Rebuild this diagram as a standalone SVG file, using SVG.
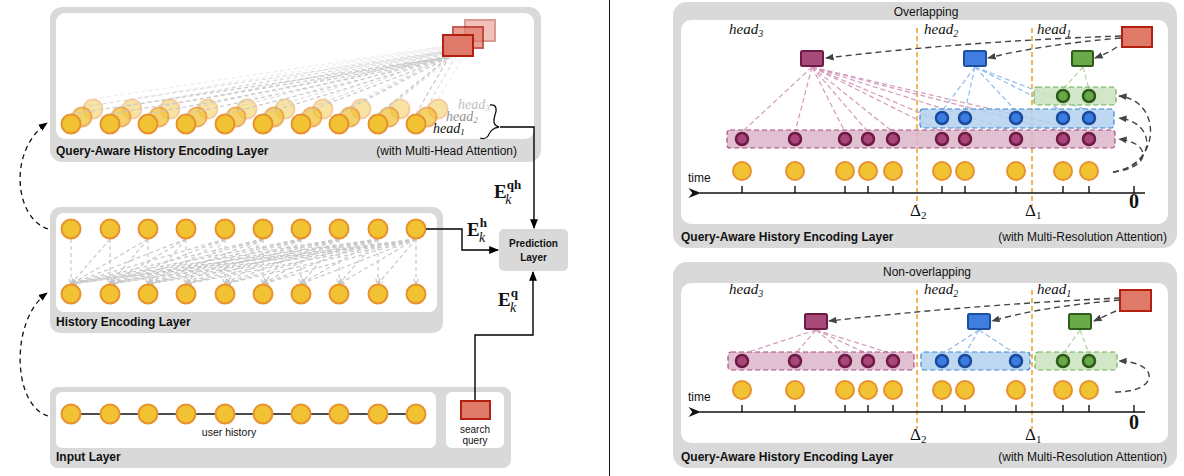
<svg xmlns="http://www.w3.org/2000/svg" width="1184" height="476" viewBox="0 0 1184 476">
  <defs>
    <style>
      .panel { fill: #d9d9d9; }
      .inner { fill: #ffffff; }
      .lbl { font-family: "Liberation Sans", Arial, sans-serif; font-size: 12px; fill: #111; }
      .bold { font-weight: bold; }
      .math { font-family: "Liberation Serif", "DejaVu Serif", serif; font-style: italic; font-size: 15px; fill: #111; }
      .math-s { font-family: "Liberation Serif", "DejaVu Serif", serif; font-style: italic; font-size: 14px; fill: #111; }
      .sym { font-family: "Liberation Serif", "DejaVu Serif", serif; fill: #111; }
      .node { fill: #f1c232; stroke: #e8912f; stroke-width: 2; }
      .query { fill: #e07a68; stroke: #b3200f; stroke-width: 2; }
      .attn { fill: none; stroke: #c8c8c8; stroke-width: 1.2; stroke-dasharray: 4 3; }
      .flow { fill: none; stroke: #000; stroke-width: 1.4; }
      .skip { fill: none; stroke: #111; stroke-width: 1.3; stroke-dasharray: 5 4; }
      .route { fill: none; stroke: #444; stroke-width: 1.4; stroke-dasharray: 6 4; }
      .delta { stroke: #f0a020; stroke-width: 1.5; stroke-dasharray: 5 3; }
      .axis { stroke: #111; stroke-width: 1.6; fill: none; }
      .tick { stroke: #111; stroke-width: 1.4; }
      .p-line { fill: none; stroke: #d49ab9; stroke-width: 1.2; stroke-dasharray: 5 3; }
      .b-line { fill: none; stroke: #8fbaf0; stroke-width: 1.2; stroke-dasharray: 5 3; }
      .g-line { fill: none; stroke: #add49b; stroke-width: 1.2; stroke-dasharray: 5 3; }
      .p-band { fill: #dbb5c9; fill-opacity: 0.85; stroke: #a84a80; stroke-width: 1.2; stroke-dasharray: 5 3; }
      .b-band { fill: #b3d1ee; fill-opacity: 0.85; stroke: #3d85d0; stroke-width: 1.2; stroke-dasharray: 5 3; }
      .g-band { fill: #c9e3bd; fill-opacity: 0.85; stroke: #6fae55; stroke-width: 1.2; stroke-dasharray: 5 3; }
      .p-node { fill: #a8467a; stroke: #6d1a45; stroke-width: 2.5; }
      .b-node { fill: #3a7ce0; stroke: #1b4a9c; stroke-width: 2.5; }
      .g-node { fill: #68a848; stroke: #2d5a1a; stroke-width: 2.5; }
      .p-box { fill: #a84a7a; stroke: #6d1a45; stroke-width: 2; }
      .b-box { fill: #3f7ee0; stroke: #1d4fa0; stroke-width: 2; }
      .g-box { fill: #6aaa48; stroke: #2e5c1a; stroke-width: 2; }
    </style>
    <marker id="arr" viewBox="0 0 10 10" refX="9" refY="5" markerWidth="7" markerHeight="7" orient="auto-start-reverse">
      <path d="M0 1 L10 5 L0 9 z" fill="#000"/>
    </marker>
    <marker id="arrGray" viewBox="0 0 10 10" refX="9" refY="5" markerWidth="6" markerHeight="6" orient="auto">
      <path d="M0 1 L10 5 L0 9 z" fill="#444"/>
    </marker>
    <marker id="arrLight" viewBox="0 0 10 10" refX="9" refY="5" markerWidth="5" markerHeight="5" orient="auto">
      <path d="M0 1 L10 5 L0 9" fill="none" stroke="#c8c8c8" stroke-width="2"/>
    </marker>
    <marker id="axisArr" viewBox="0 0 10 10" refX="1" refY="5" markerWidth="8" markerHeight="8" orient="auto">
      <path d="M10 1 L0 5 L10 9 L7 5 z" fill="#111"/>
    </marker>
  </defs>

  <rect width="1184" height="476" fill="#ffffff"/>

  <!-- divider between the two halves -->
  <line x1="609.5" y1="0" x2="609.5" y2="476" stroke="#111" stroke-width="1"/>

  <!-- ===================== left: model stack ===================== -->
  <g id="query-aware-layer">
    <rect class="panel" x="50" y="7" width="491" height="155" rx="12"/>
    <rect class="inner" x="56" y="13" width="478" height="126" rx="9"/>
    <!-- head 3 -->
    <g opacity="0.45">
      <g class="attn" style="stroke:#d8d8d8">
        <path d="M93 99 L472 42"/><path d="M132 99 L472 42"/><path d="M170 99 L472 42"/><path d="M208 99 L472 42"/><path d="M247 99 L472 42"/>
        <path d="M285 99 L472 42"/><path d="M323 99 L472 42"/><path d="M361 99 L472 42"/><path d="M400 99 L472 42"/><path d="M438 99 L472 42"/>
      </g>
      <circle class="node" cx="93" cy="109" r="9.5"/><circle class="node" cx="132" cy="109" r="9.5"/><circle class="node" cx="170" cy="109" r="9.5"/>
      <circle class="node" cx="208" cy="109" r="9.5"/><circle class="node" cx="247" cy="109" r="9.5"/><circle class="node" cx="285" cy="109" r="9.5"/>
      <circle class="node" cx="323" cy="109" r="9.5"/><circle class="node" cx="361" cy="109" r="9.5"/><circle class="node" cx="400" cy="109" r="9.5"/>
      <circle class="node" cx="438" cy="109" r="9.5"/>
      <rect class="query" x="465" y="20" width="30" height="21"/>
    </g>
    <!-- head 2 -->
    <g opacity="0.72">
      <g class="attn" style="stroke:#d0d0d0">
        <path d="M82 107 L460 49"/><path d="M121 107 L460 49"/><path d="M159 107 L460 49"/><path d="M197 107 L460 49"/><path d="M236 107 L460 49"/>
        <path d="M274 107 L460 49"/><path d="M312 107 L460 49"/><path d="M350 107 L460 49"/><path d="M389 107 L460 49"/><path d="M427 107 L460 49"/>
      </g>
      <circle class="node" cx="82" cy="117" r="9.5"/><circle class="node" cx="121" cy="117" r="9.5"/><circle class="node" cx="159" cy="117" r="9.5"/>
      <circle class="node" cx="197" cy="117" r="9.5"/><circle class="node" cx="236" cy="117" r="9.5"/><circle class="node" cx="274" cy="117" r="9.5"/>
      <circle class="node" cx="312" cy="117" r="9.5"/><circle class="node" cx="350" cy="117" r="9.5"/><circle class="node" cx="389" cy="117" r="9.5"/>
      <circle class="node" cx="427" cy="117" r="9.5"/>
      <rect class="query" x="453" y="27" width="30" height="21"/>
    </g>
    <!-- head 1 -->
    <g>
      <g class="attn">
        <path d="M71 114 L449 57"/><path d="M110 114 L449 57"/><path d="M148 114 L449 57"/><path d="M186 114 L449 57"/><path d="M225 114 L449 57"/>
        <path d="M263 114 L449 57"/><path d="M301 114 L449 57"/><path d="M339 114 L449 57"/><path d="M378 114 L449 57"/><path d="M416 114 L449 57"/>
      </g>
      <circle class="node" cx="71" cy="124" r="9.5"/><circle class="node" cx="110" cy="124" r="9.5"/><circle class="node" cx="148" cy="124" r="9.5"/>
      <circle class="node" cx="186" cy="124" r="9.5"/><circle class="node" cx="225" cy="124" r="9.5"/><circle class="node" cx="263" cy="124" r="9.5"/>
      <circle class="node" cx="301" cy="124" r="9.5"/><circle class="node" cx="339" cy="124" r="9.5"/><circle class="node" cx="378" cy="124" r="9.5"/>
      <circle class="node" cx="416" cy="124" r="9.5"/>
      <rect class="query" x="443" y="35" width="30" height="21"/>
    </g>
    <text class="math-s" x="458" y="109" style="fill:#c0c0c0">head<tspan font-size="9" dy="2">3</tspan></text>
    <text class="math-s" x="446" y="121" style="fill:#8f8f8f">head<tspan font-size="9" dy="2">2</tspan></text>
    <text class="math-s" x="433" y="133">head<tspan font-size="9" dy="2">1</tspan></text>
    <path d="M490 105 C497 104 497 110 495 115 C493 121 493 125 499 127 C492 128 490 132 488 136 C486 139 483 139 480 138" fill="none" stroke="#111" stroke-width="1.3"/>
    <text class="lbl bold" x="56" y="155">Query-Aware History Encoding Layer</text>
    <text class="lbl" x="517" y="155" text-anchor="end">(with Multi-Head Attention)</text>
  </g>

  <g id="history-layer">
    <rect class="panel" x="50" y="207" width="393" height="126" rx="10"/>
    <rect class="inner" x="56" y="213" width="381" height="99" rx="8"/>
    <g class="attn" marker-end="url(#arrLight)">
      <path d="M71 239 L71 284"/>
      <path d="M110 239 L71 284"/><path d="M110 239 L110 284"/>
      <path d="M148 239 L71 284"/><path d="M148 239 L110 284"/><path d="M148 239 L148 284"/>
      <path d="M186 239 L71 284"/><path d="M186 239 L110 284"/><path d="M186 239 L148 284"/><path d="M186 239 L186 284"/>
      <path d="M225 239 L71 284"/><path d="M225 239 L110 284"/><path d="M225 239 L148 284"/><path d="M225 239 L186 284"/><path d="M225 239 L225 284"/>
      <path d="M263 239 L71 284"/><path d="M263 239 L110 284"/><path d="M263 239 L148 284"/><path d="M263 239 L186 284"/><path d="M263 239 L225 284"/><path d="M263 239 L263 284"/>
      <path d="M301 239 L71 284"/><path d="M301 239 L110 284"/><path d="M301 239 L148 284"/><path d="M301 239 L186 284"/><path d="M301 239 L225 284"/><path d="M301 239 L263 284"/><path d="M301 239 L301 284"/>
      <path d="M339 239 L71 284"/><path d="M339 239 L110 284"/><path d="M339 239 L148 284"/><path d="M339 239 L186 284"/><path d="M339 239 L225 284"/><path d="M339 239 L263 284"/><path d="M339 239 L301 284"/><path d="M339 239 L339 284"/>
      <path d="M378 239 L71 284"/><path d="M378 239 L110 284"/><path d="M378 239 L148 284"/><path d="M378 239 L186 284"/><path d="M378 239 L225 284"/><path d="M378 239 L263 284"/><path d="M378 239 L301 284"/><path d="M378 239 L339 284"/><path d="M378 239 L378 284"/>
      <path d="M416 239 L71 284"/><path d="M416 239 L110 284"/><path d="M416 239 L148 284"/><path d="M416 239 L186 284"/><path d="M416 239 L225 284"/><path d="M416 239 L263 284"/><path d="M416 239 L301 284"/><path d="M416 239 L339 284"/><path d="M416 239 L378 284"/><path d="M416 239 L416 284"/>
    </g>
    <circle class="node" cx="71" cy="229" r="9.5"/><circle class="node" cx="110" cy="229" r="9.5"/><circle class="node" cx="148" cy="229" r="9.5"/>
    <circle class="node" cx="186" cy="229" r="9.5"/><circle class="node" cx="225" cy="229" r="9.5"/><circle class="node" cx="263" cy="229" r="9.5"/>
    <circle class="node" cx="301" cy="229" r="9.5"/><circle class="node" cx="339" cy="229" r="9.5"/><circle class="node" cx="378" cy="229" r="9.5"/>
    <circle class="node" cx="416" cy="229" r="9.5"/>
    <circle class="node" cx="71" cy="294" r="9.5"/><circle class="node" cx="110" cy="294" r="9.5"/><circle class="node" cx="148" cy="294" r="9.5"/>
    <circle class="node" cx="186" cy="294" r="9.5"/><circle class="node" cx="225" cy="294" r="9.5"/><circle class="node" cx="263" cy="294" r="9.5"/>
    <circle class="node" cx="301" cy="294" r="9.5"/><circle class="node" cx="339" cy="294" r="9.5"/><circle class="node" cx="378" cy="294" r="9.5"/>
    <circle class="node" cx="416" cy="294" r="9.5"/>
    <text class="lbl bold" x="56" y="326">History Encoding Layer</text>
  </g>

  <g id="input-layer">
    <rect class="panel" x="50" y="387" width="461" height="81" rx="8"/>
    <rect class="inner" x="56" y="392" width="380" height="56" rx="6"/>
    <rect class="inner" x="446" y="392" width="58" height="56" rx="6"/>
    <line x1="71" y1="414" x2="416" y2="414" stroke="#111" stroke-width="1.4"/>
    <circle class="node" cx="71" cy="414" r="9.5"/><circle class="node" cx="110" cy="414" r="9.5"/><circle class="node" cx="148" cy="414" r="9.5"/>
    <circle class="node" cx="186" cy="414" r="9.5"/><circle class="node" cx="225" cy="414" r="9.5"/><circle class="node" cx="263" cy="414" r="9.5"/>
    <circle class="node" cx="301" cy="414" r="9.5"/><circle class="node" cx="339" cy="414" r="9.5"/><circle class="node" cx="378" cy="414" r="9.5"/>
    <circle class="node" cx="416" cy="414" r="9.5"/>
    <text class="lbl" x="229" y="436" text-anchor="middle" style="font-size:10.5px">user history</text>
    <rect class="query" x="461" y="401" width="29" height="18"/>
    <text class="lbl" x="475" y="433" text-anchor="middle" style="font-size:10px">search</text>
    <text class="lbl" x="475" y="444" text-anchor="middle" style="font-size:10px">query</text>
    <text class="lbl bold" x="56" y="461">Input Layer</text>
  </g>

  <g id="prediction-layer">
    <rect class="panel" x="499" y="229" width="69" height="42" rx="5"/>
    <text class="lbl bold" x="533.5" y="247" text-anchor="middle" style="font-size:10px">Prediction</text>
    <text class="lbl bold" x="533.5" y="261" text-anchor="middle" style="font-size:10px">Layer</text>
  </g>

  <g id="left-connectors">
    <path class="flow" d="M500 127 L534 127 L534 228" marker-end="url(#arr)"/>
    <path class="flow" d="M426 229 L462 229 L462 250 L498 250" marker-end="url(#arr)"/>
    <path class="flow" d="M475 400 L475 335 L533 335 L533 272" marker-end="url(#arr)"/>
    <path class="skip" d="M48 229 C14 218 8 150 47 123" marker-end="url(#arr)"/>
    <path class="skip" d="M48 416 C12 405 10 320 47 293" marker-end="url(#arr)"/>
    <text class="sym" x="494" y="198" font-weight="bold" font-size="19">E<tspan font-size="13" dy="-9">qh</tspan><tspan font-size="14" font-style="italic" font-weight="normal" dx="-16" dy="15">k</tspan></text>
    <text class="sym" x="467" y="236" font-weight="bold" font-size="19">E<tspan font-size="13" dy="-9">h</tspan><tspan font-size="14" font-style="italic" font-weight="normal" dx="-8" dy="15">k</tspan></text>
    <text class="sym" x="498" y="306" font-weight="bold" font-size="19">E<tspan font-size="13" dy="-9">q</tspan><tspan font-size="14" font-style="italic" font-weight="normal" dx="-8" dy="15">k</tspan></text>
  </g>

  <!-- ===================== right: overlapping resolutions ===================== -->
  <g id="overlapping-panel">
    <rect class="panel" x="673" y="2" width="504" height="246" rx="14"/>
    <rect class="inner" x="681" y="20" width="487" height="204" rx="10"/>
    <text class="lbl" x="926" y="16" text-anchor="middle">Overlapping</text>
    <text class="math" x="729" y="34">head<tspan font-size="10" dy="3">3</tspan></text>
    <text class="math" x="924" y="34">head<tspan font-size="10" dy="3">2</tspan></text>
    <text class="math" x="1037" y="34">head<tspan font-size="10" dy="3">1</tspan></text>

    <line class="delta" x1="917" y1="28" x2="917" y2="206"/>
    <line class="delta" x1="1032" y1="28" x2="1032" y2="206"/>

    <g class="p-line">
      <path d="M812 67 L742 132"/><path d="M812 67 L795 132"/><path d="M812 67 L845 132"/><path d="M812 67 L868 132"/><path d="M812 67 L893 132"/>
      <path d="M812 67 L942 132"/><path d="M812 67 L965 132"/><path d="M812 67 L1016 132"/><path d="M812 67 L1063 132"/><path d="M812 67 L1089 132"/>
    </g>
    <g class="b-line">
      <path d="M975 67 L942 111"/><path d="M975 67 L965 111"/><path d="M975 67 L1016 111"/><path d="M975 67 L1063 111"/><path d="M975 67 L1089 111"/>
    </g>
    <g class="g-line">
      <path d="M1083 67 L1063 89"/><path d="M1083 67 L1089 89"/>
    </g>

    <rect class="p-band" x="727" y="130" width="388" height="18" rx="3"/>
    <rect class="b-band" x="920" y="109" width="194" height="19" rx="3"/>
    <rect class="g-band" x="1034" y="87" width="82" height="18" rx="3"/>

    <g>
      <circle class="p-node" cx="742" cy="139" r="6"/><circle class="p-node" cx="795" cy="139" r="6"/><circle class="p-node" cx="845" cy="139" r="6"/>
      <circle class="p-node" cx="868" cy="139" r="6"/><circle class="p-node" cx="893" cy="139" r="6"/><circle class="p-node" cx="942" cy="139" r="6"/>
      <circle class="p-node" cx="965" cy="139" r="6"/><circle class="p-node" cx="1016" cy="139" r="6"/><circle class="p-node" cx="1063" cy="139" r="6"/>
      <circle class="p-node" cx="1089" cy="139" r="6"/>
      <circle class="b-node" cx="942" cy="118" r="6"/><circle class="b-node" cx="965" cy="118" r="6"/><circle class="b-node" cx="1016" cy="118" r="6"/>
      <circle class="b-node" cx="1063" cy="118" r="6"/><circle class="b-node" cx="1089" cy="118" r="6"/>
      <circle class="g-node" cx="1063" cy="96" r="6"/><circle class="g-node" cx="1089" cy="96" r="6"/>
    </g>

    <rect class="p-box" x="801" y="51" width="22" height="15" rx="1.5"/>
    <rect class="b-box" x="964" y="51" width="22" height="15" rx="1.5"/>
    <rect class="g-box" x="1072" y="51" width="21" height="15" rx="1.5"/>
    <rect class="query" x="1122" y="27" width="30" height="20"/>

    <g>
      <circle class="node" cx="742" cy="171" r="9"/><circle class="node" cx="795" cy="171" r="9"/><circle class="node" cx="845" cy="171" r="9"/>
      <circle class="node" cx="868" cy="171" r="9"/><circle class="node" cx="893" cy="171" r="9"/><circle class="node" cx="942" cy="171" r="9"/>
      <circle class="node" cx="965" cy="171" r="9"/><circle class="node" cx="1016" cy="171" r="9"/><circle class="node" cx="1063" cy="171" r="9"/>
      <circle class="node" cx="1089" cy="171" r="9"/>
    </g>

    <line class="axis" x1="1145" y1="193" x2="700" y2="193" marker-end="url(#axisArr)"/>
    <g class="tick">
      <line x1="742" y1="186" x2="742" y2="193"/><line x1="795" y1="186" x2="795" y2="193"/><line x1="845" y1="186" x2="845" y2="193"/>
      <line x1="868" y1="186" x2="868" y2="193"/><line x1="893" y1="186" x2="893" y2="193"/><line x1="942" y1="186" x2="942" y2="193"/>
      <line x1="965" y1="186" x2="965" y2="193"/><line x1="1016" y1="186" x2="1016" y2="193"/><line x1="1063" y1="186" x2="1063" y2="193"/>
      <line x1="1089" y1="186" x2="1089" y2="193"/><line x1="1134" y1="186" x2="1134" y2="193"/>
    </g>
    <text class="lbl" x="688" y="182">time</text>
    <text class="sym" x="910" y="216" font-size="17">Δ<tspan font-size="11" dy="3">2</tspan></text>
    <text class="sym" x="1025" y="216" font-size="17">Δ<tspan font-size="11" dy="3">1</tspan></text>
    <text class="sym" x="1134" y="208" font-size="20" font-weight="bold" text-anchor="middle">0</text>

    <text class="lbl bold" x="681" y="241">Query-Aware History Encoding Layer</text>
    <text class="lbl" x="1167" y="241" text-anchor="end">(with Multi-Resolution Attention)</text>
  </g>

  <g id="overlapping-connectors">
    <path class="route" d="M1121 36 Q 970 41 826 58" marker-end="url(#arrGray)"/>
    <path class="route" d="M1121 38 Q 1040 45 988 58" marker-end="url(#arrGray)"/>
    <path class="route" d="M1117 47 Q 1108 53 1095 58" marker-end="url(#arrGray)"/>
    <path class="route" d="M1113 172 C1162 165 1162 100 1119 96" marker-end="url(#arrGray)"/>
    <path class="route" d="M1113 172 C1157 166 1157 122 1119 118" marker-end="url(#arrGray)"/>
    <path class="route" d="M1113 172 C1152 168 1152 143 1119 139" marker-end="url(#arrGray)"/>
  </g>

  <!-- ===================== right: non-overlapping resolutions ===================== -->
  <g id="non-overlapping-panel">
    <rect class="panel" x="673" y="262" width="504" height="206" rx="14"/>
    <rect class="inner" x="681" y="283" width="487" height="160" rx="10"/>
    <text class="lbl" x="927" y="276" text-anchor="middle">Non-overlapping</text>
    <text class="math" x="729" y="294">head<tspan font-size="10" dy="3">3</tspan></text>
    <text class="math" x="924" y="294">head<tspan font-size="10" dy="3">2</tspan></text>
    <text class="math" x="1037" y="294">head<tspan font-size="10" dy="3">1</tspan></text>

    <line class="delta" x1="917" y1="290" x2="917" y2="429"/>
    <line class="delta" x1="1032" y1="290" x2="1032" y2="429"/>

    <g class="p-line">
      <path d="M816 330 L742 354"/><path d="M816 330 L795 354"/><path d="M816 330 L845 354"/><path d="M816 330 L868 354"/><path d="M816 330 L893 354"/>
    </g>
    <g class="b-line">
      <path d="M979 330 L942 354"/><path d="M979 330 L965 354"/><path d="M979 330 L1016 354"/>
    </g>
    <g class="g-line">
      <path d="M1080 330 L1063 354"/><path d="M1080 330 L1089 354"/>
    </g>

    <rect class="p-band" x="728" y="352" width="186" height="18" rx="3"/>
    <rect class="b-band" x="921" y="352" width="109" height="18" rx="3"/>
    <rect class="g-band" x="1035" y="352" width="82" height="18" rx="3"/>

    <g>
      <circle class="p-node" cx="742" cy="361" r="6"/><circle class="p-node" cx="795" cy="361" r="6"/><circle class="p-node" cx="845" cy="361" r="6"/>
      <circle class="p-node" cx="868" cy="361" r="6"/><circle class="p-node" cx="893" cy="361" r="6"/>
      <circle class="b-node" cx="942" cy="361" r="6"/><circle class="b-node" cx="965" cy="361" r="6"/><circle class="b-node" cx="1016" cy="361" r="6"/>
      <circle class="g-node" cx="1063" cy="361" r="6"/><circle class="g-node" cx="1089" cy="361" r="6"/>
    </g>

    <rect class="p-box" x="805" y="314" width="22" height="15" rx="1.5"/>
    <rect class="b-box" x="968" y="314" width="22" height="15" rx="1.5"/>
    <rect class="g-box" x="1069" y="314" width="22" height="15" rx="1.5"/>
    <rect class="query" x="1120" y="290" width="31" height="21"/>

    <g>
      <circle class="node" cx="742" cy="390" r="9"/><circle class="node" cx="795" cy="390" r="9"/><circle class="node" cx="845" cy="390" r="9"/>
      <circle class="node" cx="868" cy="390" r="9"/><circle class="node" cx="893" cy="390" r="9"/><circle class="node" cx="942" cy="390" r="9"/>
      <circle class="node" cx="965" cy="390" r="9"/><circle class="node" cx="1016" cy="390" r="9"/><circle class="node" cx="1063" cy="390" r="9"/>
      <circle class="node" cx="1089" cy="390" r="9"/>
    </g>

    <line class="axis" x1="1145" y1="412" x2="700" y2="412" marker-end="url(#axisArr)"/>
    <g class="tick">
      <line x1="742" y1="405" x2="742" y2="412"/><line x1="795" y1="405" x2="795" y2="412"/><line x1="845" y1="405" x2="845" y2="412"/>
      <line x1="868" y1="405" x2="868" y2="412"/><line x1="893" y1="405" x2="893" y2="412"/><line x1="942" y1="405" x2="942" y2="412"/>
      <line x1="965" y1="405" x2="965" y2="412"/><line x1="1016" y1="405" x2="1016" y2="412"/><line x1="1063" y1="405" x2="1063" y2="412"/>
      <line x1="1089" y1="405" x2="1089" y2="412"/><line x1="1134" y1="405" x2="1134" y2="412"/>
    </g>
    <text class="lbl" x="688" y="401">time</text>
    <text class="sym" x="910" y="440" font-size="17">Δ<tspan font-size="11" dy="3">2</tspan></text>
    <text class="sym" x="1025" y="440" font-size="17">Δ<tspan font-size="11" dy="3">1</tspan></text>
    <text class="sym" x="1134" y="429" font-size="20" font-weight="bold" text-anchor="middle">0</text>

    <text class="lbl bold" x="681" y="461">Query-Aware History Encoding Layer</text>
    <text class="lbl" x="1167" y="461" text-anchor="end">(with Multi-Resolution Attention)</text>
  </g>

  <g id="non-overlapping-connectors">
    <path class="route" d="M1120 298 Q 970 305 829 321" marker-end="url(#arrGray)"/>
    <path class="route" d="M1120 300 Q 1040 307 992 321" marker-end="url(#arrGray)"/>
    <path class="route" d="M1116 311 Q 1105 316 1094 321" marker-end="url(#arrGray)"/>
    <path class="route" d="M1115 392 C1160 392 1160 362 1119 361" marker-end="url(#arrGray)"/>
  </g>
</svg>
